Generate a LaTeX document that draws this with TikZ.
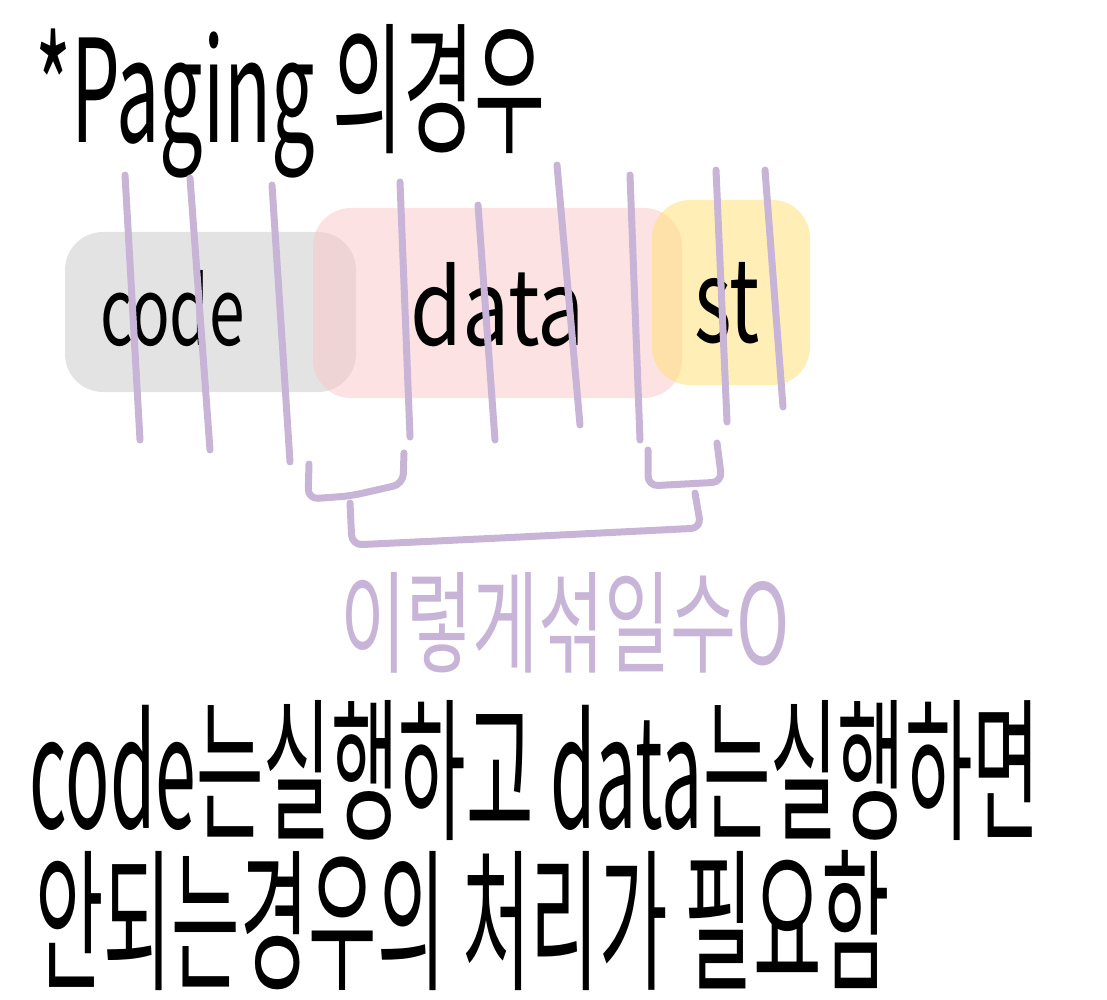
\documentclass[tikz,border=0pt]{standalone}
\usepackage{fontspec}
\newfontfamily\kr{Noto Sans CJK KR}
\definecolor{ink}{HTML}{000000}
\definecolor{lilac}{HTML}{C8B4D7}
\definecolor{graybg}{HTML}{C8C8C8}
\definecolor{pinkbg}{HTML}{F9C6C6}
\definecolor{yellowbg}{HTML}{FFE070}
\tikzset{
  blob/.style={fill=#1, fill opacity=0.5, draw=none, rounded corners=38pt},
  txt/.style={inner sep=0pt, outer sep=0pt, anchor=north west, text=ink},
  ptxt/.style={inner sep=0pt, outer sep=0pt, anchor=north west, text=lilac},
  stroke/.style={draw=lilac, line width=7pt, line cap=round, line join=round},
  brack/.style={stroke, rounded corners=10pt}
}
\begin{document}
\begin{tikzpicture}[x=1pt,y=-1pt]
\useasboundingbox (0,0) rectangle (1107,1000);
% title
\node[txt] (title) at (35,24) {\resizebox{510pt}{118pt}{\kr *Paging 의경우}};
% blobs
\path[blob=graybg] (65,232) rectangle (356,392);
\path[blob=pinkbg] (313,208) rectangle (682,398);
\path[blob=yellowbg] (652,200) rectangle (810,385);
\node[inner sep=0pt] (gray) at (210,312) {};
\node[inner sep=0pt] (pink) at (497,303) {};
\node[inner sep=0pt] (yellow) at (731,292) {};
% segment labels
\node[txt] (code) at (100,270) {\resizebox{145pt}{75pt}{\kr code}};
\node[txt] (data) at (410,262) {\resizebox{175pt}{83pt}{\kr data}};
\node[txt] (st) at (694,262) {\resizebox{66pt}{80pt}{\kr st}};
% page boundaries
\draw[stroke] (125,175) -- (140,440);
\draw[stroke] (190,178) -- (210,450);
\draw[stroke] (272,185) -- (290,462);
\draw[stroke] (400,182) -- (410,437);
\draw[stroke] (478,205) -- (495,440);
\draw[stroke] (557,165) -- (580,425);
\draw[stroke] (630,175) -- (640,440);
\draw[stroke] (716,170) -- (727,422);
\draw[stroke] (765,170) -- (783,407);
% brackets
\coordinate (b1a) at (309,464);
\coordinate (b1b) at (404,453);
\coordinate (b2a) at (648,450);
\coordinate (b2b) at (717,443);
\coordinate (b3a) at (350,503);
\coordinate (b3b) at (695,493);
\draw[brack] (b1a) -- (308,499) -- (350,496) -- (403,484) -- (b1b);
\draw[brack] (b2a) -- (648,486) -- (722,482) -- (b2b);
\draw[brack] (b3a) -- (352,545) -- (500,538) -- (701,528) -- (b3b);
% purple note
\node[ptxt] (note) at (340,572) {\resizebox{450pt}{92pt}{\kr 이렇게섞일수O}};
% bottom text
\node[txt] (line1) at (30,700) {\resizebox{1010pt}{128pt}{\kr code는실행하고 data는실행하면}};
\node[txt] (line2) at (35,850) {\resizebox{855pt}{128pt}{\kr 안되는경우의 처리가 필요함}};
\end{tikzpicture}
\end{document}
